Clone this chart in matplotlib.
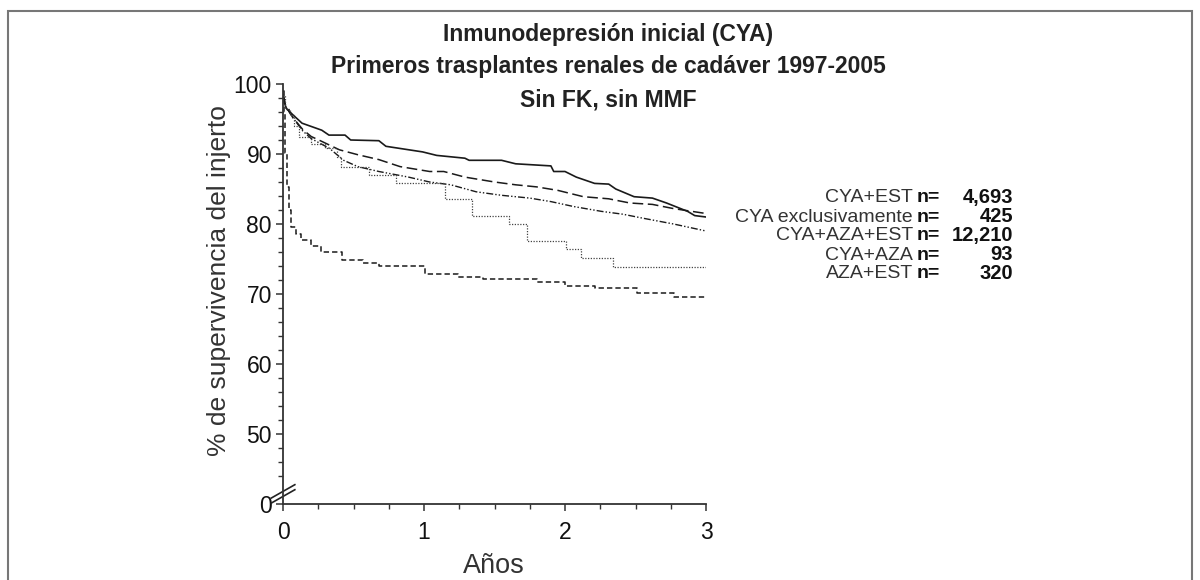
import matplotlib
matplotlib.use("Agg")
import matplotlib.pyplot as plt
from matplotlib.patches import Rectangle

plt.rcParams['font.family'] = ['Liberation Sans', 'DejaVu Sans']

# Kaplan-Meier style graft survival (%), years since transplant
t_cya_est = [0, 0.02, 0.07, 0.135, 0.275, 0.326, 0.44, 0.48, 0.68, 0.73, 0.99, 1.09,
             1.29, 1.32, 1.55, 1.65, 1.90, 1.92, 2.0, 2.08, 2.21, 2.31, 2.36, 2.49,
             2.62, 2.72, 2.87, 2.92, 3.0]
v_cya_est = [98.5, 96.6, 95.6, 94.4, 93.4, 92.7, 92.7, 92.0, 91.9, 91.1, 90.3, 89.8,
             89.4, 89.1, 89.1, 88.6, 88.3, 87.5, 87.5, 86.7, 85.8, 85.7, 85.0, 83.9,
             83.7, 83.0, 81.8, 81.2, 81.0]

t_cya_excl = [0, 0.02, 0.07, 0.14, 0.2, 0.275, 0.40, 0.53, 0.68, 0.83, 1.04, 1.14, 1.29,
              1.50, 1.65, 1.80, 1.95, 2.13, 2.31, 2.46, 2.62, 2.77, 3.0]
v_cya_excl = [98.5, 96.8, 95.2, 93.5, 92.5, 91.8, 90.6, 89.9, 89.2, 88.2, 87.5, 87.5, 86.7,
              86.0, 85.6, 85.3, 84.8, 83.9, 83.6, 83.0, 82.8, 82.2, 81.5]

t_cya_aza_est = [0, 0.02, 0.07, 0.14, 0.2, 0.33, 0.43, 0.53, 0.68, 0.89, 1.04, 1.19, 1.37,
                 1.55, 1.75, 1.90, 2.06, 2.26, 2.41, 2.56, 2.77, 3.0]
v_cya_aza_est = [98.5, 96.8, 95.2, 93.3, 92.2, 90.8, 89.1, 88.2, 87.5, 86.7, 86.0, 85.6, 84.6,
                 84.1, 83.7, 83.2, 82.5, 81.8, 81.4, 80.8, 80.0, 79.0]

t_cya_aza = [0, 0.015, 0.05, 0.08, 0.11, 0.20, 0.30, 0.38, 0.41, 0.61, 0.80, 1.15, 1.34,
             1.60, 1.73, 2.01, 2.11, 2.34, 3.0]
v_cya_aza = [98.5, 96.5, 95.6, 94.0, 92.5, 91.5, 90.8, 89.6, 88.2, 87.0, 85.8, 83.6, 81.2,
             80.0, 77.6, 76.4, 75.2, 73.9, 73.9]

t_aza_est = [0, 0.005, 0.016, 0.026, 0.04, 0.06, 0.09, 0.13, 0.2, 0.27, 0.42, 0.57, 0.68,
             1.01, 1.24, 1.42, 1.80, 2.0, 2.21, 2.51, 2.77, 3.0]
v_aza_est = [99.0, 96.0, 90.1, 85.3, 82.0, 79.6, 78.6, 77.7, 76.8, 76.0, 74.9, 74.4, 74.0,
             72.9, 72.5, 72.1, 71.7, 71.1, 70.8, 70.2, 69.6, 69.6]

group_names = ['CYA+EST', 'CYA exclusivamente', 'CYA+AZA+EST', 'CYA+AZA', 'AZA+EST']
group_n = ['4,693', '425', '12,210', '93', '320']

y_ticks = [40, 50, 60, 70, 80, 90, 100]
y_ticklabels = ['0', '50', '60', '70', '80', '90', '100']
x_ticks = [0, 1, 2, 3]

ink = '#1a1a1a'

fig = plt.figure(figsize=(12, 5.8), dpi=100)
ax = fig.add_axes([283 / 1200, 1 - 504 / 580, 423 / 1200, 420 / 580])

ax.plot(t_cya_est, v_cya_est, color=ink, lw=1.2, ls='-')
ax.plot(t_cya_excl, v_cya_excl, color=ink, lw=1.1, ls=(0, (7, 3)))
ax.plot(t_cya_aza_est, v_cya_aza_est, color=ink, lw=1.0, ls=(0, (5, 1.5, 1, 1.5, 1, 1.5)))
ax.plot(t_cya_aza, v_cya_aza, color='#444444', lw=0.9, ls=(0, (1, 1.2)), drawstyle='steps-post')
ax.plot(t_aza_est, v_aza_est, color=ink, lw=1.1, ls=(0, (3.5, 2)), drawstyle='steps-post')

ax.set_xlim(0, 3)
ax.set_ylim(40, 100)
ax.set_xticks(x_ticks)
ax.set_xticks([i * 0.25 for i in range(13)], minor=True)
ax.set_yticks(y_ticks)
ax.set_yticklabels(y_ticklabels)
ax.set_yticks([v for v in range(44, 100, 2) if v % 10 != 0], minor=True)
ax.tick_params(axis='both', which='major', labelsize=16.5, length=5, width=1.1,
               color='#333333', labelcolor='#111111', pad=3)
ax.tick_params(axis='both', which='minor', length=3.5, width=1.0, color='#333333')
ax.tick_params(axis='x', which='major', pad=7)
for side in ['top', 'right']:
    ax.spines[side].set_visible(False)
for side in ['left', 'bottom']:
    ax.spines[side].set_color('#333333')
    ax.spines[side].set_linewidth(1.3)

# axis break marks
for dy in (0.0, -0.012):
    ax.plot([-0.028, 0.028], [0.014 + dy, 0.046 + dy], transform=ax.transAxes,
            color='#222222', lw=1.2, clip_on=False)

fig.text(219 / 1200, 1 - 281 / 580, '% de supervivencia del injerto', rotation=90,
         ha='center', va='center', fontsize=19, color='#333333')
fig.text(494 / 1200, 1 - 566 / 580, 'Años', ha='center', va='center',
         fontsize=19.5, color='#333333')

titles = ['Inmunodepresión inicial (CYA)',
          'Primeros trasplantes renales de cadáver 1997-2005',
          'Sin FK, sin MMF']
for title, ypx in zip(titles, [34, 67, 100]):
    fig.text(608 / 1200, 1 - ypx / 580, title, ha='center', va='center',
             fontsize=16.5, fontweight='bold', color='#222222')

rows = [198, 217, 236, 255, 274]
for name, n, ypx in zip(group_names, group_n, rows):
    yy = 1 - ypx / 580
    fig.text(913 / 1200, yy, name, ha='right', va='center', fontsize=14, color='#333333')
    fig.text(917 / 1200, yy, 'n=', ha='left', va='center', fontsize=14,
             fontweight='bold', color='#111111')
    fig.text(1013 / 1200, yy, n, ha='right', va='center', fontsize=14.5,
             fontweight='bold', color='#111111')

fig.patches.append(Rectangle((8 / 1200, -0.02), 1184 / 1200, 1.02 - 11 / 580,
                             transform=fig.transFigure, fill=False,
                             edgecolor='#777777', lw=1.5))

fig.savefig('out.png', dpi=100)
